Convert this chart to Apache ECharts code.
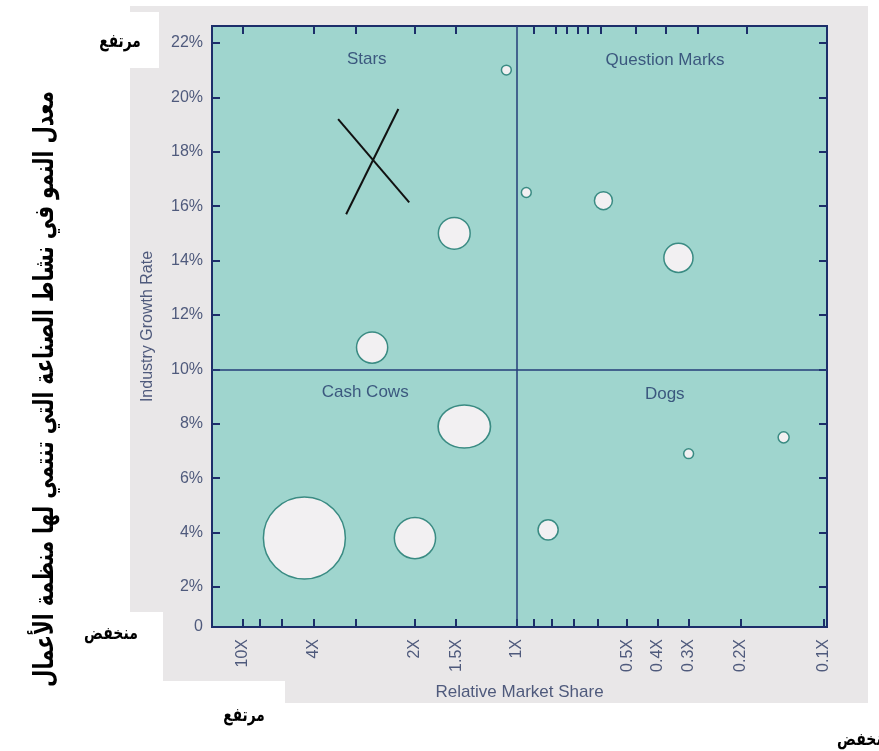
<!DOCTYPE html>
<html>
<head>
<meta charset="utf-8">
<script src="https://cdn.jsdelivr.net/npm/echarts@6/dist/echarts.min.js"></script>
<style>
  html, body { margin: 0; padding: 0; background: #ffffff; }
  #chart { width: 879px; height: 751px; }
</style>
</head>
<body>
<div id="chart"></div>
<script>
// Relative market share: labelled ticks (high share on the left)
const shareTickValues = [10, 4, 2, 1.5, 1, 0.5, 0.4, 0.3, 0.2, 0.1];
const shareTickLabels = ['10X', '4X', '2X', '1.5X', '1X', '0.5X', '0.4X', '0.3X', '0.2X', '0.1X'];
// Unlabelled ticks along the bottom and top edges
const shareMinorBottom = [8, 6, 3, 0.9, 0.8, 0.7, 0.6];
const shareMinorTop = [3, 0.9, 0.78, 0.73, 0.68, 0.64, 0.59, 0.47, 0.37, 0.28, 0.19];
// Industry growth rate ticks (%)
const growthTicks = [2, 4, 6, 8, 10, 12, 14, 16, 18, 20, 22];

// Business units: relative market share, industry growth (%), revenue
const relativeShare = [1.07, 1.52, 2.68, 0.94, 0.58, 0.33, 1.42, 4.5, 2.0, 0.82, 0.30, 0.14];
const growthRate    = [21.0, 15.0, 10.8, 16.5, 16.2, 14.1, 7.9, 3.8, 3.8, 4.1, 6.9, 7.5];
const revenue       = [1.2, 12.5, 12, 1.2, 4, 10.5, 27, 83, 21, 5, 1.2, 1.5];

// Quadrant captions
const quadrantNames  = ['Stars', 'Question Marks', 'Cash Cows', 'Dogs'];
const quadrantShare  = [2.78, 0.374, 2.81, 0.375];
const quadrantGrowth = [21.4, 21.35, 9.15, 9.1];

// Hand-drawn cross in the Stars quadrant (two strokes)
const crossShare  = [[3.38, 2.08], [2.24, 3.2]];
const crossGrowth = [[19.2, 16.14], [19.57, 15.7]];

// The share axis is printed with uneven spacing: each labelled share sits at a
// fixed stop on a 0..100 axis, with log interpolation between neighbouring stops.
const shareAxis = {
  shares: shareTickValues,
  stops: [5, 16.5, 33, 39.7, 49.5, 67.5, 72.5, 77.5, 86, 99.5]
};
function shareToAxis(s) {
  const sh = shareAxis.shares, st = shareAxis.stops;
  let i = 0;
  while (i < sh.length - 2 && s < sh[i + 1]) i++;
  const t = Math.log(sh[i] / s) / Math.log(sh[i] / sh[i + 1]);
  return st[i] + t * (st[i + 1] - st[i]);
}
const growthAxis = { min: 0.53, max: 22.62 };

const navy = '#1c2e6a';
const labelGrey = '#4f5a7c';
const sansFont = '"Liberation Sans", Arial, sans-serif';
const arabicFont = '"DejaVu Sans", sans-serif';

const shareLabelPos = shareTickValues.map(shareToAxis);
const bottomTicks = shareTickValues.concat(shareMinorBottom).map(shareToAxis);
const topTicks = [10, 4, 2, 1.5].concat(shareMinorTop).map(shareToAxis);

const bubbleData = relativeShare.map((s, i) => {
  const d = 9 * Math.sqrt(revenue[i]);
  const item = { value: [shareToAxis(s), growthRate[i]], symbolSize: d };
  if (i === 6) item.symbolSize = [d * 1.12, d * 0.92];
  return item;
});

const quadrantData = quadrantNames.map((n, i) => ({
  name: n, value: [shareToAxis(quadrantShare[i]), quadrantGrowth[i]]
}));

const crossData = crossShare.map((xs, i) => ({
  coords: [[shareToAxis(xs[0]), crossGrowth[i][0]], [shareToAxis(xs[1]), crossGrowth[i][1]]]
}));

function arabicLabel(text, x, y, size, sx, rotation) {
  return {
    type: 'text', z: 10, x: x, y: y, rotation: rotation || 0, scaleX: sx,
    style: {
      text: text, font: 'bold ' + size + 'px ' + arabicFont, fill: '#000000',
      textAlign: 'center', textVerticalAlign: 'middle'
    }
  };
}

const chart = echarts.init(document.getElementById('chart'), null, { renderer: 'canvas' });

chart.setOption({
  animation: false,
  backgroundColor: '#ffffff',
  grid: {
    left: 212, right: 52, top: 26, bottom: 124,
    show: true,
    backgroundColor: '#9fd5ce',
    borderColor: navy,
    borderWidth: 2
  },
  xAxis: [{
    type: 'value',
    min: 0, max: 100,
    position: 'bottom',
    name: 'Relative Market Share',
    nameLocation: 'middle',
    nameGap: 57,
    nameTextStyle: { fontFamily: sansFont, fontSize: 17, color: labelGrey },
    axisLine: { show: false, onZero: false },
    splitLine: { show: false },
    axisTick: {
      show: true, inside: true, length: 8,
      customValues: bottomTicks,
      lineStyle: { color: navy, width: 2 }
    },
    axisLabel: {
      show: true, rotate: 90, margin: 12,
      customValues: shareLabelPos,
      fontFamily: sansFont, fontSize: 16, color: labelGrey,
      formatter: v => {
        const i = shareLabelPos.findIndex(p => Math.abs(p - v) < 1e-6);
        return i >= 0 ? shareTickLabels[i] : '';
      }
    }
  }, {
    type: 'value',
    min: 0, max: 100,
    position: 'top',
    axisLine: { show: false, onZero: false },
    splitLine: { show: false },
    axisTick: {
      show: true, inside: true, length: 8,
      customValues: topTicks,
      lineStyle: { color: navy, width: 2 }
    },
    axisLabel: { show: false }
  }],
  yAxis: [{
    type: 'value',
    min: growthAxis.min, max: growthAxis.max,
    position: 'left',
    name: 'Industry Growth Rate',
    nameLocation: 'middle',
    nameRotate: 90,
    nameGap: 56,
    nameTextStyle: { fontFamily: sansFont, fontSize: 16, color: labelGrey },
    axisLine: { show: false, onZero: false },
    splitLine: { show: false },
    axisTick: {
      show: true, inside: true, length: 8,
      customValues: growthTicks,
      lineStyle: { color: navy, width: 2 }
    },
    axisLabel: {
      show: true, margin: 9,
      customValues: [growthAxis.min].concat(growthTicks),
      fontFamily: sansFont, fontSize: 16, color: labelGrey,
      formatter: v => (v < 1 ? '0' : v + '%')
    }
  }, {
    type: 'value',
    min: growthAxis.min, max: growthAxis.max,
    position: 'right',
    axisLine: { show: false, onZero: false },
    splitLine: { show: false },
    axisTick: {
      show: true, inside: true, length: 8,
      customValues: growthTicks,
      lineStyle: { color: navy, width: 2 }
    },
    axisLabel: { show: false }
  }],
  graphic: [
    // scanned page behind the chart
    { type: 'rect', z: -100, shape: { x: 130, y: 6, width: 738, height: 697 }, style: { fill: '#e9e7e8' } },
    // white label boxes
    { type: 'rect', z: -99, shape: { x: 100, y: 12, width: 59, height: 56 }, style: { fill: '#ffffff' } },
    { type: 'rect', z: -99, shape: { x: 0, y: 612, width: 163, height: 139 }, style: { fill: '#ffffff' } },
    { type: 'rect', z: -99, shape: { x: 0, y: 681, width: 285, height: 70 }, style: { fill: '#ffffff' } },
    // Arabic annotations
    arabicLabel('معدل النمو في نشاط الصناعة التي تنتمي لها منظمة الأعمال', 46, 389, 27, 0.74, Math.PI / 2),
    arabicLabel('مرتفع', 120, 42, 19, 0.72),
    arabicLabel('منخفض', 111, 634, 18, 0.78),
    arabicLabel('مرتفع', 244, 716, 19, 0.72),
    arabicLabel('منخفض', 864, 740, 18, 0.78)
  ],
  series: [{
    type: 'scatter',
    xAxisIndex: 0, yAxisIndex: 0,
    data: bubbleData,
    itemStyle: { color: '#f2f0f2', borderColor: '#3a8b83', borderWidth: 1.5, opacity: 1 },
    emphasis: { disabled: true },
    silent: true,
    markLine: {
      silent: true,
      symbol: ['none', 'none'],
      label: { show: false },
      lineStyle: { color: '#243c78', width: 1.5, type: 'solid' },
      data: [{ xAxis: shareToAxis(1) }, { yAxis: 10 }]
    },
    z: 3
  }, {
    type: 'scatter',
    xAxisIndex: 0, yAxisIndex: 0,
    data: quadrantData,
    symbolSize: 0,
    silent: true,
    label: {
      show: true, position: 'inside',
      formatter: p => p.name,
      fontFamily: sansFont, fontSize: 17, color: '#22386a'
    },
    z: 4
  }, {
    type: 'lines',
    coordinateSystem: 'cartesian2d',
    xAxisIndex: 0, yAxisIndex: 0,
    data: crossData,
    silent: true,
    lineStyle: { color: '#111111', width: 2, opacity: 1 },
    z: 5
  }]
});
</script>
</body>
</html>
